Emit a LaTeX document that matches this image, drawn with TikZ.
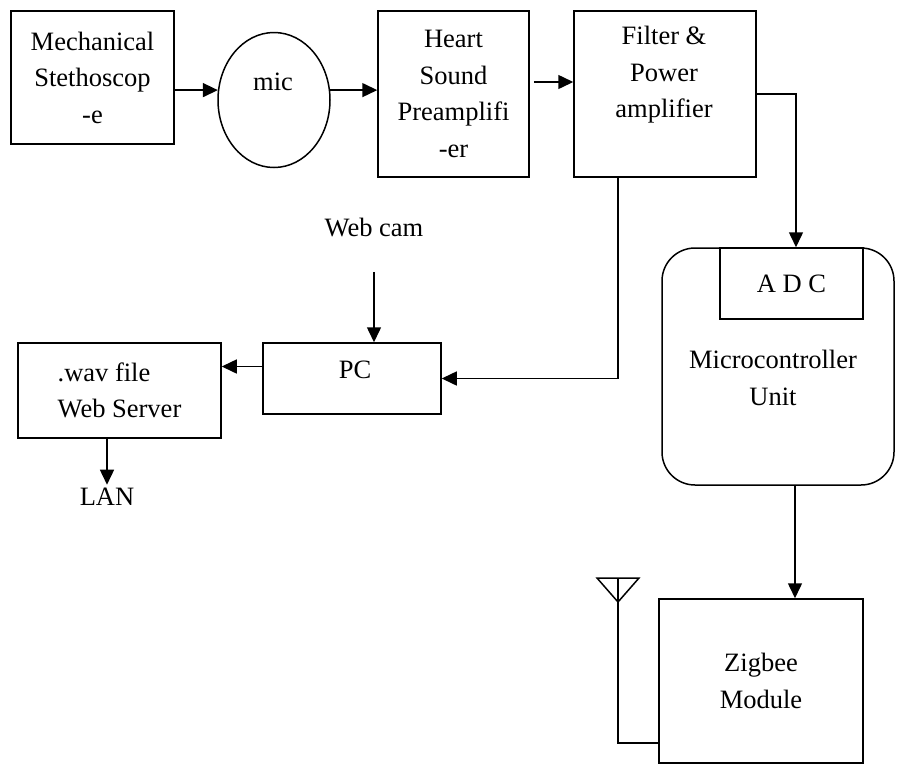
\documentclass[tikz,border=0pt]{standalone}
\usepackage{fontspec}
\setmainfont{Liberation Serif}
\usetikzlibrary{shapes.geometric,arrows.meta}
\begin{document}
\begin{tikzpicture}[x=1pt, y=-1pt,
  box/.style={draw, line width=1.5pt, align=center, inner sep=0pt, font=\fontsize{26.5}{36.5}\selectfont},
  txt/.style={align=center, font=\fontsize{26.5}{36.5}\selectfont},
  arr/.style={-{Triangle[length=15pt,width=14pt]}, line width=1.5pt}]
  \useasboundingbox (0,0) rectangle (898,764);

  % ノード（上段）
  \node[box, minimum width=163pt, minimum height=133pt] (mech) at (92.5,77.5) {Mechanical\\Stethoscop\\-e};
  \node[box, ellipse, minimum width=112pt, minimum height=135pt] (mic) at (274,100) {};
  \node[txt] (mictxt) at (273,82) {mic};
  \node[box, minimum width=151pt, minimum height=166pt] (heart) at (453.5,94) {Heart\\Sound\\Preamplifi\\-er};
  \node[box, minimum width=182pt, minimum height=166pt] (filter) at (665,94) {};
  \node[txt] (filtertxt) at (664,75) {Filter \&\\Power\\amplifier};

  % ノード（左側）
  \node[txt] (webcam) at (374,228) {Web cam};
  \node[box, minimum width=178pt, minimum height=71pt] (pc) at (352,378.5) {};
  \node[txt] (pctxt) at (355,370) {PC};
  \node[box, align=left, minimum width=203pt, minimum height=95pt] (web) at (119.5,390.5) {.wav file\\Web Server};
  \node[txt] (lan) at (107,497) {LAN};

  % ノード（右側）
  \node[box, rounded corners=33pt, minimum width=232pt, minimum height=237pt] (mcu) at (778,366.5) {};
  \node[box, minimum width=143pt, minimum height=71pt] (adc) at (791.5,283.5) {A D C};
  \node[txt] (mcutxt) at (773,378) {Microcontroller\\Unit};
  \node[box, minimum width=204pt, minimum height=164pt] (zigbee) at (761,681) {Zigbee\\Module};
  \coordinate (ant) at (618,578);

  % エッジ
  \draw[arr] (mech.east |- mic.170) -- (mic.170);
  \draw[arr] (mic.10) -- (heart.west |- mic.10);
  \draw[arr, shorten <=4pt] ([yshift=12pt]heart.east) -- ([yshift=12pt]heart.east -| filter.west);
  \draw[arr] (filter.east) -| ([xshift=4.5pt]adc.north);
  \draw[arr] ([xshift=-47pt]filter.south) |- (pc.east);
  \draw[arr] ([yshift=-31pt]webcam.south) -- (webcam.south |- pc.north);
  \draw[arr] ([yshift=12pt]pc.west) -- ([yshift=12pt]pc.west -| web.east);
  \draw[arr] ([xshift=-12.5pt]web.south) -- ([xshift=-12.5pt]web.south |- lan.north);
  \draw[arr] ([xshift=17pt]mcu.south) -- ([xshift=17pt]mcu.south |- zigbee.north);

  % アンテナ
  \draw[line width=1.5pt] ([yshift=-62pt]zigbee.west) -| (ant);
  \draw[line width=1.5pt] ([xshift=-21pt]ant) -- ([yshift=-24pt]ant) -- ([xshift=21pt]ant) -- cycle;
\end{tikzpicture}
\end{document}
